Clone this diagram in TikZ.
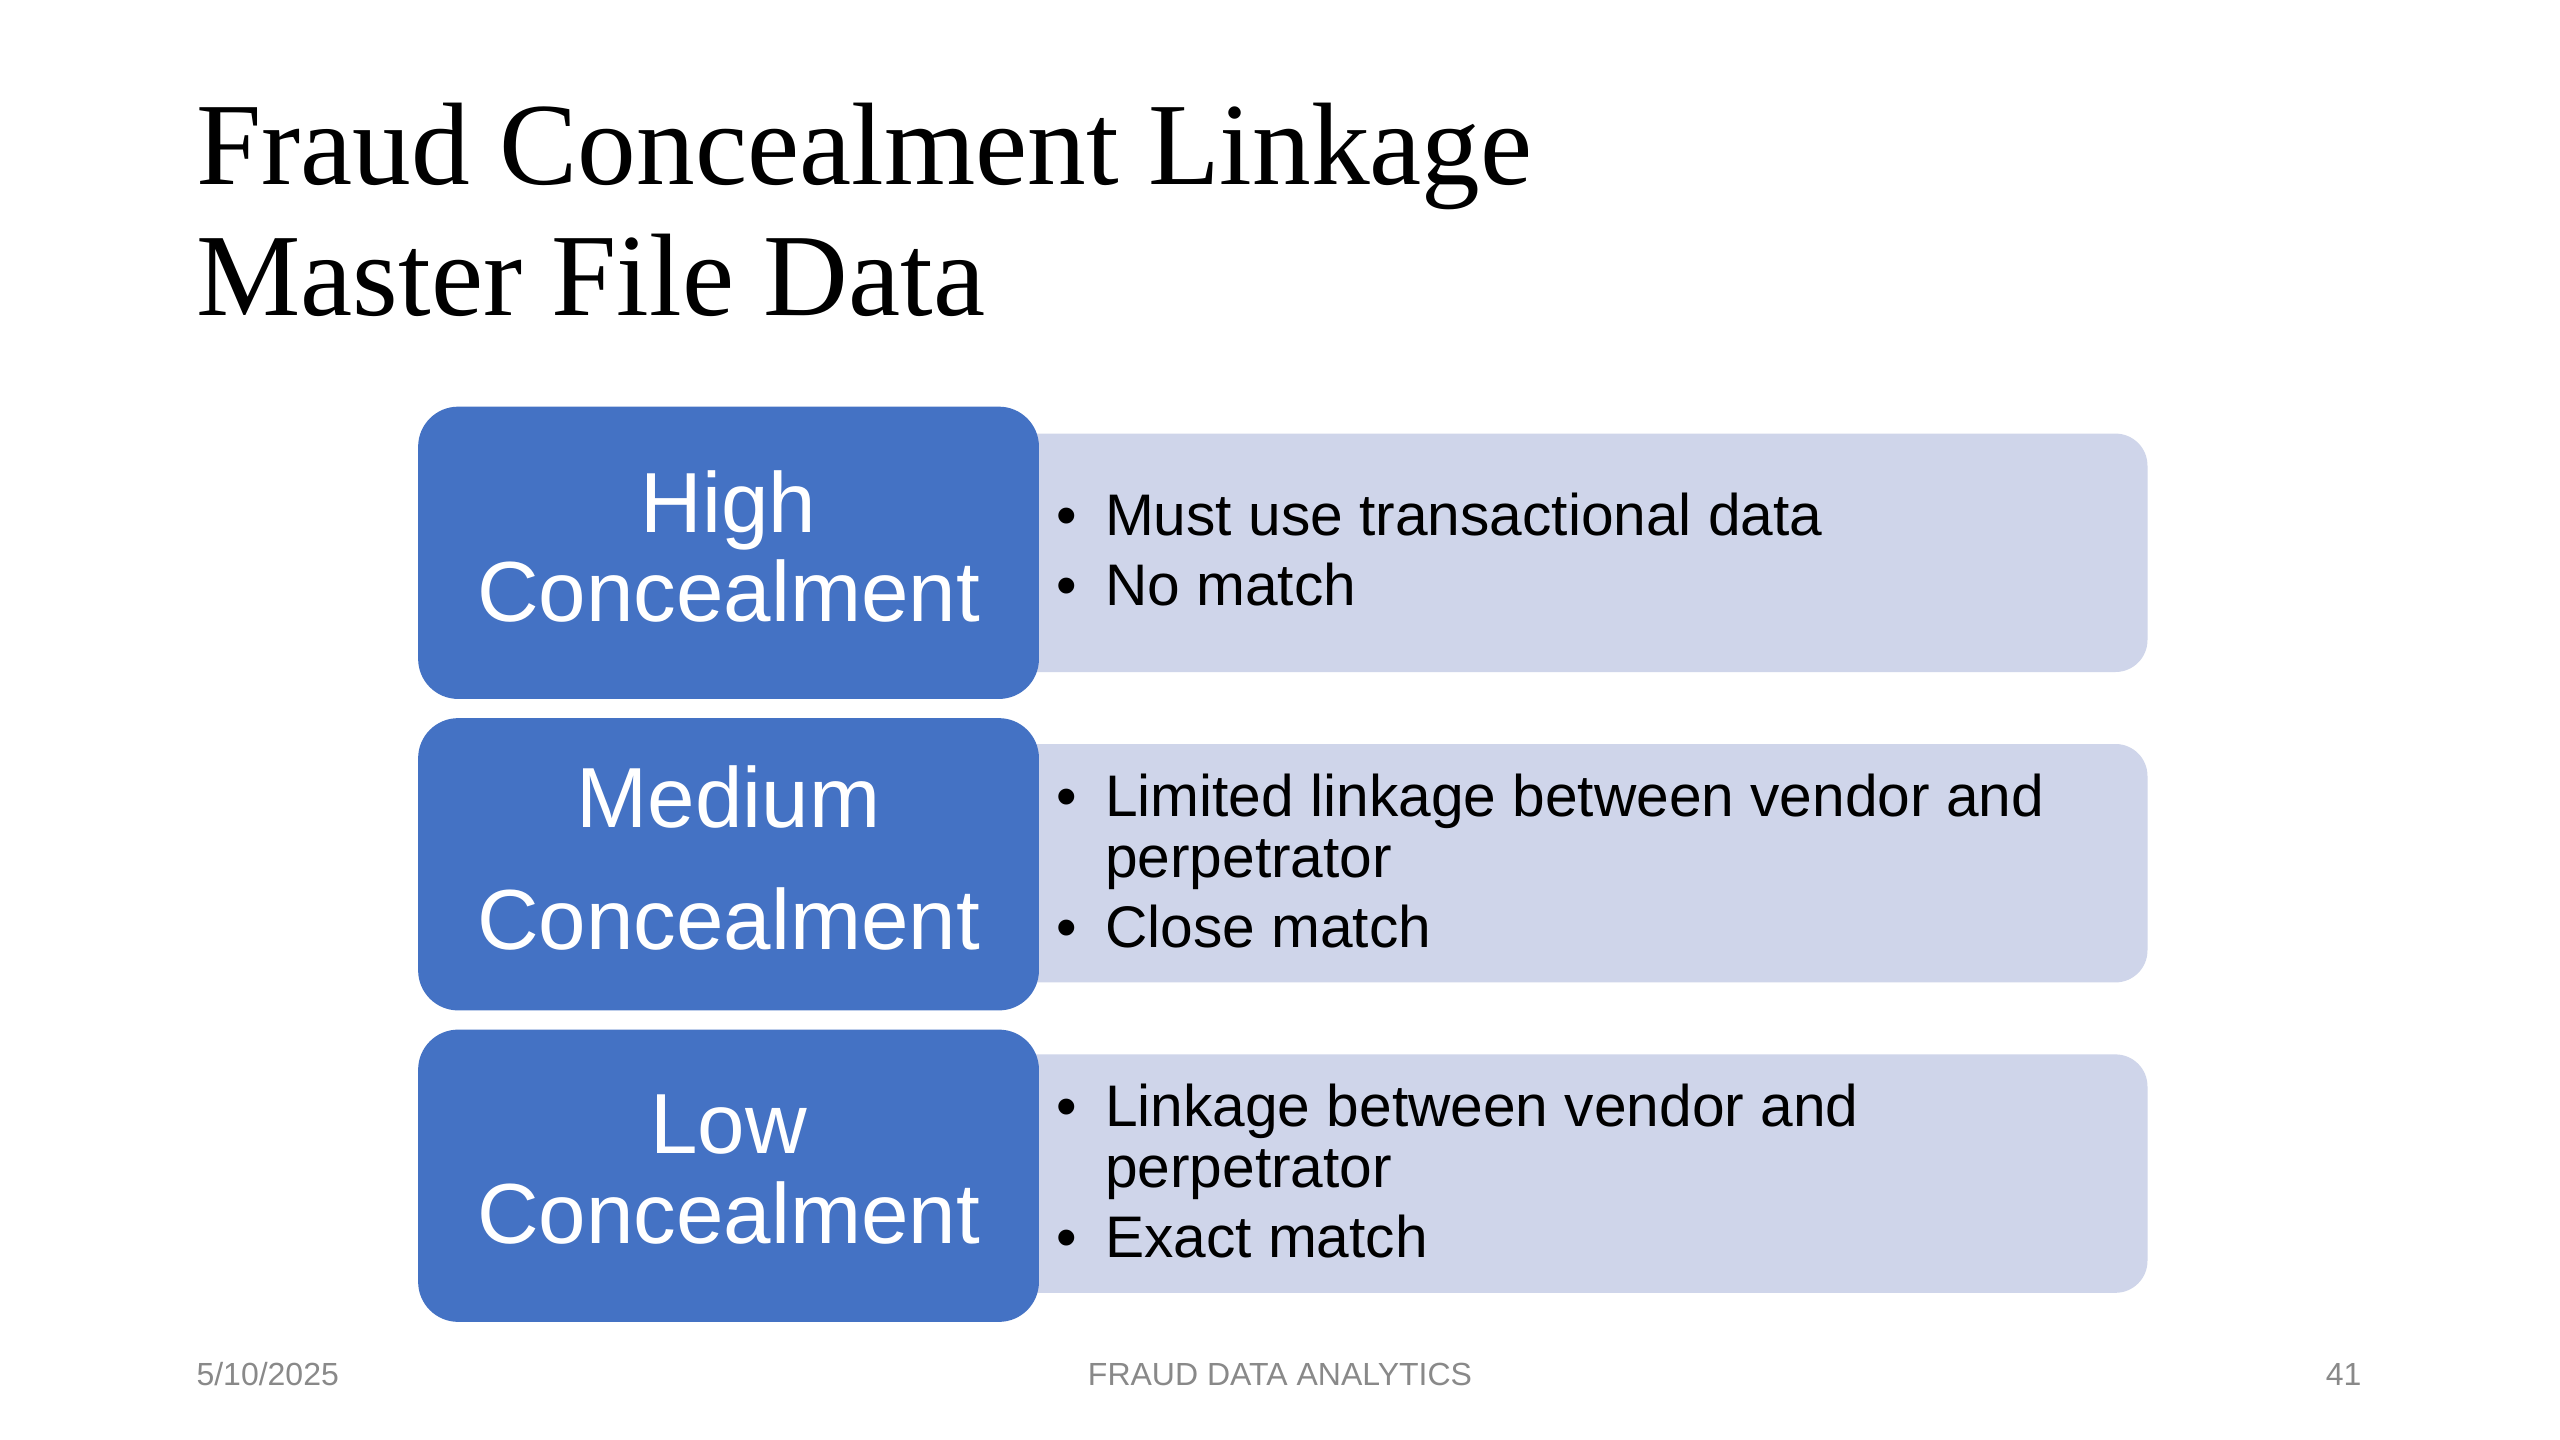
\documentclass[tikz,border=0pt]{standalone}
\usepackage{fontspec}
\setmainfont{Liberation Serif}
\newfontfamily\slidesans{Liberation Sans}
\usetikzlibrary{positioning}
\definecolor{slideBlue}{RGB}{68,114,196}
\definecolor{slideLightBlue}{RGB}{207,213,234}
\definecolor{slideGray}{RGB}{137,137,137}
\newcommand{\bulletline}[1]{\makebox[18.2pt][l]{\textbullet}#1}
\newcommand{\hangline}[1]{\hspace*{18.2pt}#1}

\begin{document}
\begin{tikzpicture}[
  level/.style={
    fill=slideBlue,
    rounded corners=15pt,
    minimum width=232.8pt,
    minimum height=109.6pt,
    inner sep=0pt,
    text depth=5pt,
    align=center,
    text=white,
    font=\slidesans\fontsize{32}{33.7}\selectfont
  },
  detail/.style={
    fill=slideLightBlue,
    rounded corners=12pt,
    minimum width=532pt,
    minimum height=89.4pt,
    inner sep=0pt
  },
  points/.style={anchor=base west,align=left,inner sep=0pt,font=\slidesans\fontsize{22}{22.7}\selectfont},
  footer/.style={anchor=base,inner sep=0pt,text=slideGray,font=\slidesans\fontsize{12}{14}\selectfont}
]
  \useasboundingbox[fill=white] (0,0) rectangle (960pt,-540pt);
  % base of a multi-line node is its last line
  \node[anchor=base west,align=left,inner sep=0pt,font=\fontsize{44}{49}\selectfont] (title) at (73.5pt,-118.2pt) {Fraud Concealment Linkage\\Master File Data};
  \node[detail] (highinfo) at (539.3pt,-207.3pt) {};
  \node[detail] (mediuminfo) at (539.3pt,-323.7pt) {};
  \node[detail] (lowinfo) at (539.3pt,-440.1pt) {};
  \node[level] (high) at (273.2pt,-207.3pt) {High\\Concealment};
  \node[level,below=6.8pt of high] (medium) {Medium\\[12.2pt]Concealment};
  \node[level,below=6.8pt of medium] (low) {Low\\Concealment};
  \node[points] (hightext) at (396pt,-227.2pt) {\bulletline{Must use transactional data}\\[3.6pt]\bulletline{No match}};
  \node[points] (mediumtext) at (396pt,-355.3pt) {\bulletline{Limited linkage between vendor and}\\\hangline{perpetrator}\\[3.6pt]\bulletline{Close match}};
  \node[points] (lowtext) at (396pt,-471.6pt) {\bulletline{Linkage between vendor and}\\\hangline{perpetrator}\\[3.6pt]\bulletline{Exact match}};
  \node[footer,anchor=base west] (date) at (73.5pt,-519.4pt) {5/10/2025};
  \node[footer] (deck) at (480pt,-519.4pt) {FRAUD DATA ANALYTICS};
  \node[footer,anchor=base east] (pagenum) at (885.7pt,-519.4pt) {41};
\end{tikzpicture}
\end{document}
